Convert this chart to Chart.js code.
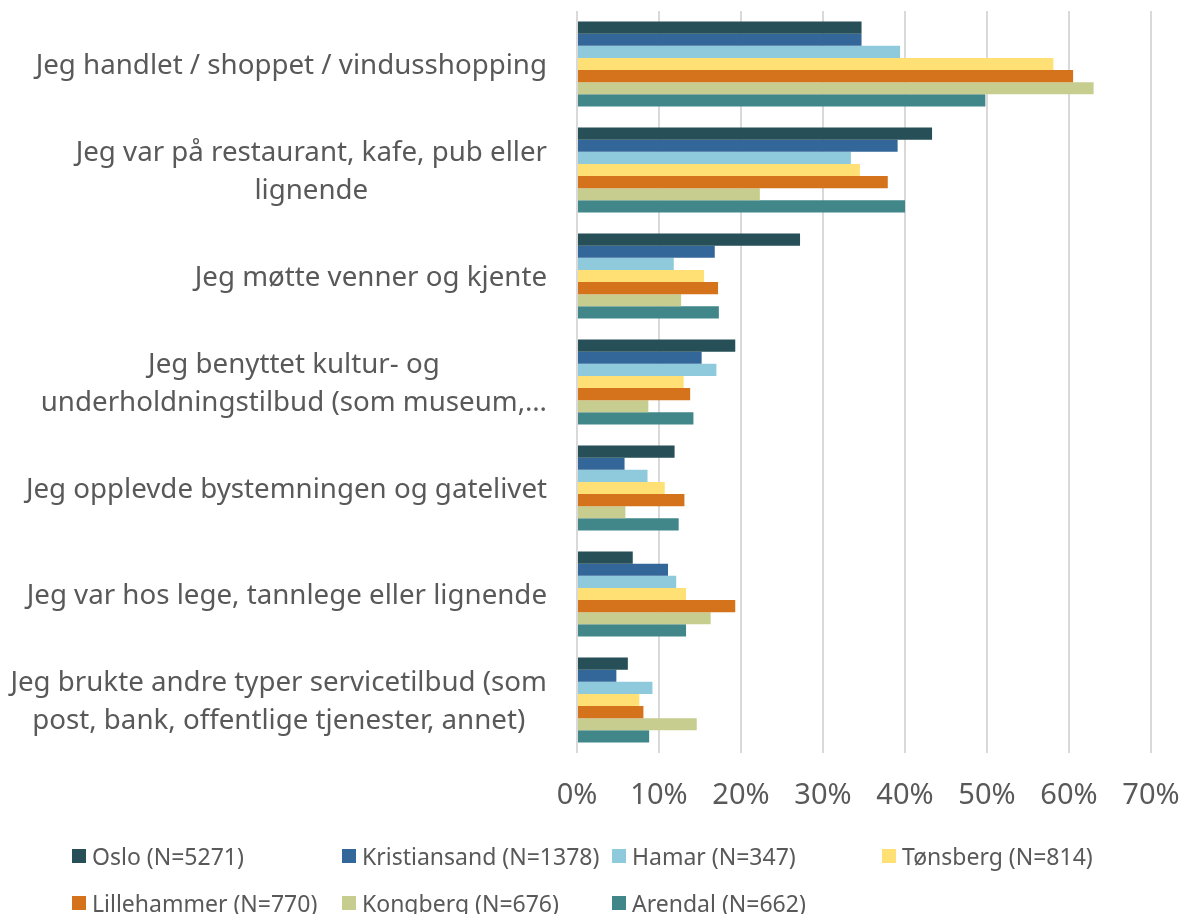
<!DOCTYPE html>
<html>
<head>
<meta charset="utf-8">
<script src="https://cdn.jsdelivr.net/npm/chart.js@4/dist/chart.umd.min.js"></script>
<style>
  body { margin: 0; background: #fff; }
  #wrap { position: relative; width: 1181px; height: 914px; }
  #legend {
    position: absolute; left: 72px; top: 832px;
    display: grid; grid-template-columns: repeat(4, 270px); grid-auto-rows: 47px;
    font-family: "Noto Sans", sans-serif; font-size: 23px; color: #595959;
  }
  .item { display: flex; align-items: center; white-space: nowrap; }
  .box { width: 14px; height: 14px; margin-right: 6px; flex: none; }
</style>
</head>
<body>
<div id="wrap">
  <canvas id="chart" width="1181" height="914"></canvas>
  <div id="legend"></div>
</div>
<script>
// Category labels (line breaks as in the original)
const categories = [
  ['Jeg handlet / shoppet / vindusshopping'],
  ['Jeg var på restaurant, kafe, pub eller', 'lignende'],
  ['Jeg møtte venner og kjente'],
  ['Jeg benyttet kultur- og', 'underholdningstilbud (som museum,…'],
  ['Jeg opplevde bystemningen og gatelivet'],
  ['Jeg var hos lege, tannlege eller lignende'],
  ['Jeg brukte andre typer servicetilbud (som', 'post, bank, offentlige tjenester, annet)']
];

// Share of respondents, percent
const oslo        = [34.7, 43.3, 27.2, 19.3, 11.9,  6.8,  6.2];
const kristiansand = [34.7, 39.1, 16.8, 15.2,  5.8, 11.1,  4.8];
const hamar       = [39.4, 33.4, 11.8, 17.0,  8.6, 12.1,  9.2];
const tonsberg    = [58.1, 34.5, 15.5, 13.0, 10.7, 13.3,  7.6];
const lillehammer = [60.5, 37.9, 17.2, 13.8, 13.1, 19.3,  8.1];
const kongberg    = [63.0, 22.3, 12.7,  8.7,  5.9, 16.3, 14.6];
const arendal     = [49.8, 40.0, 17.3, 14.2, 12.4, 13.3,  8.8];

const seriesNames = ['Oslo (N=5271)', 'Kristiansand (N=1378)', 'Hamar (N=347)', 'Tønsberg (N=814)',
  'Lillehammer (N=770)', 'Kongberg (N=676)', 'Arendal (N=662)'];
const seriesValues = [oslo, kristiansand, hamar, tonsberg, lillehammer, kongberg, arendal];
const seriesColors = ['#264f57', '#33679a', '#8ecadb', '#ffe074', '#d5731d', '#c6cd8f', '#41878a'];

const xTicks = [0, 10, 20, 30, 40, 50, 60, 70];

const textColor = '#595959';
const labelFont = '27.7px "Noto Sans", sans-serif';

// draws the wrapped category labels: lines centered within a block, block right-aligned
const categoryLabels = {
  id: 'categoryLabels',
  afterDraw(chart) {
    const ctx = chart.ctx;
    const yScale = chart.scales.y;
    const right = chart.chartArea.left - 30;
    ctx.save();
    ctx.font = labelFont;
    ctx.fillStyle = textColor;
    ctx.textAlign = 'center';
    ctx.textBaseline = 'middle';
    categories.forEach((lines, i) => {
      const cy = yScale.getPixelForTick(i) + 2;
      const w = Math.max(...lines.map(l => ctx.measureText(l).width));
      const cx = right - w / 2;
      lines.forEach((line, j) => {
        ctx.fillText(line, cx, cy + (j - (lines.length - 1) / 2) * 38);
      });
    });
    ctx.restore();
  }
};

const chart = new Chart(document.getElementById('chart'), {
  type: 'bar',
  data: {
    labels: categories.map(c => c.join(' ')),
    datasets: seriesNames.map((name, i) => ({
      label: name,
      data: seriesValues[i],
      backgroundColor: seriesColors[i],
      borderWidth: 0,
      barPercentage: 1,
      categoryPercentage: 0.8
    }))
  },
  options: {
    indexAxis: 'y',
    responsive: false,
    animation: false,
    layout: { padding: { top: 11, right: 30, bottom: 81, left: 0 } },
    plugins: {
      legend: { display: false },
      tooltip: { enabled: false }
    },
    scales: {
      x: {
        min: 0,
        max: 70,
        afterBuildTicks: scale => { scale.ticks = xTicks.map(v => ({ value: v })); },
        afterFit: scale => {
          scale.height = 80;
          scale.paddingLeft = 0;
          scale.paddingRight = 0;
        },
        grid: { color: '#d9d9d9', lineWidth: 2, drawTicks: false },
        border: { display: false },
        ticks: {
          padding: 25,
          color: textColor,
          font: { family: '"Noto Sans", sans-serif', size: 29 },
          callback: v => v + '%'
        }
      },
      y: {
        afterFit: scale => { scale.width = 577; },
        grid: { display: false },
        border: { display: false },
        ticks: { display: false }
      }
    }
  },
  plugins: [categoryLabels]
});

// legend laid out as a grid, like the original
const legend = document.getElementById('legend');
seriesNames.forEach((name, i) => {
  const item = document.createElement('div');
  item.className = 'item';
  item.innerHTML = `<span class="box" style="background:${seriesColors[i]}"></span><span>${name}</span>`;
  legend.appendChild(item);
});
</script>
</body>
</html>
